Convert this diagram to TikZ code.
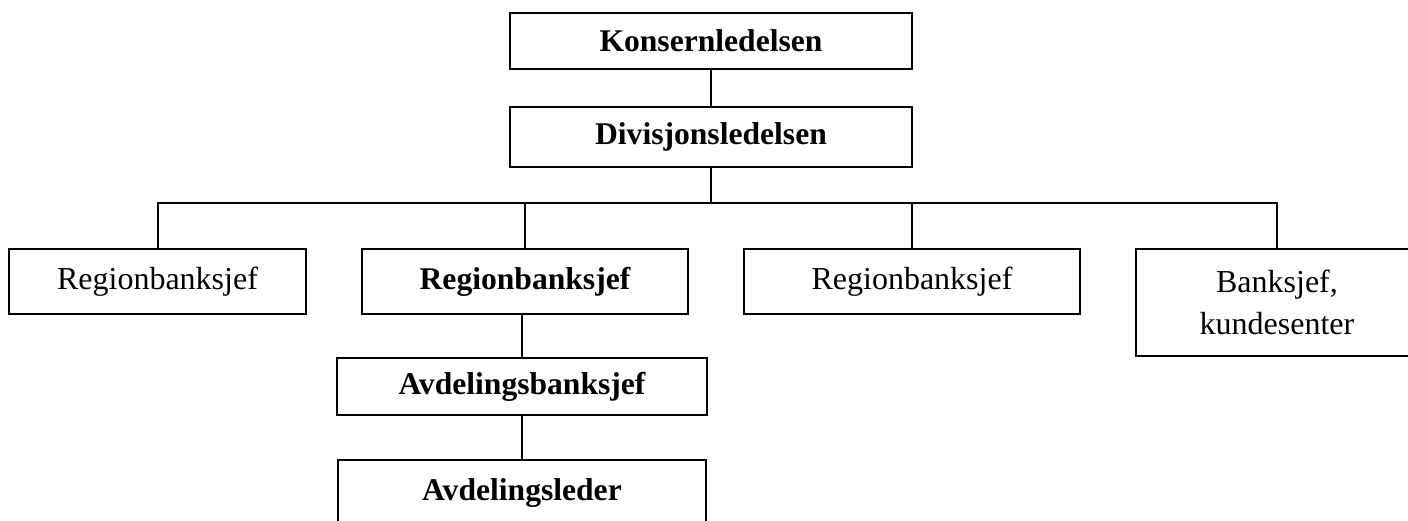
\documentclass[tikz,border=0pt]{standalone}
\usepackage{fontspec}
\setmainfont{Liberation Serif}
\begin{document}
\begin{tikzpicture}[x=1pt,y=-1pt,
  box/.style={draw,line width=2pt,rectangle,inner sep=0pt,align=center,
    font=\fontsize{32}{42}\selectfont},
  boldbox/.style={box,font=\fontsize{31.6}{42}\selectfont\bfseries},
  link/.style={line width=2pt}]
\useasboundingbox (0,0) rectangle (1408,520);
\clip (0,0) rectangle (1408,520);

% top management
\node[boldbox,minimum width=402pt,minimum height=56pt] (konsern) at (711,41) {Konsernledelsen};
\node[boldbox,minimum width=402pt,minimum height=60pt] (divisjon) at (711,137) {Divisjonsledelsen};

% regional level
\node[box,minimum width=297pt,minimum height=65pt] (r1) at (157.5,281.5) {Regionbanksjef};
\node[boldbox,minimum width=326pt,minimum height=65pt] (r2) at (525,281.5) {Regionbanksjef};
\node[box,minimum width=336pt,minimum height=65pt] (r3) at (912,281.5) {Regionbanksjef};
\node[box,minimum width=282pt,minimum height=107pt] (r4) at (1277,302.5) {Banksjef,\\kundesenter};

% branch level
\node[boldbox,minimum width=370pt,minimum height=57pt] (avdbank) at (522,386.5) {Avdelingsbanksjef};
\node[boldbox,minimum width=368pt,anchor=north,text height=21.6pt,text depth=40pt,inner ysep=19pt] (avdleder) at (522,459) {Avdelingsleder};

% connectors
\coordinate (bus) at (711,203);
\draw[link] (konsern.south) -- (divisjon.north);
\draw[link] (divisjon.south) -- (bus);
\draw[link] (r1.north) |- (bus) -| (r4.north);
\draw[link] (r2.north) -- (r2.north |- bus);
\draw[link] (r3.north) -- (r3.north |- bus);
\draw[link] (avdbank.north) -- (avdbank.north |- r2.south);
\draw[link] (avdleder.north) -- (avdbank.south);
\end{tikzpicture}
\end{document}
